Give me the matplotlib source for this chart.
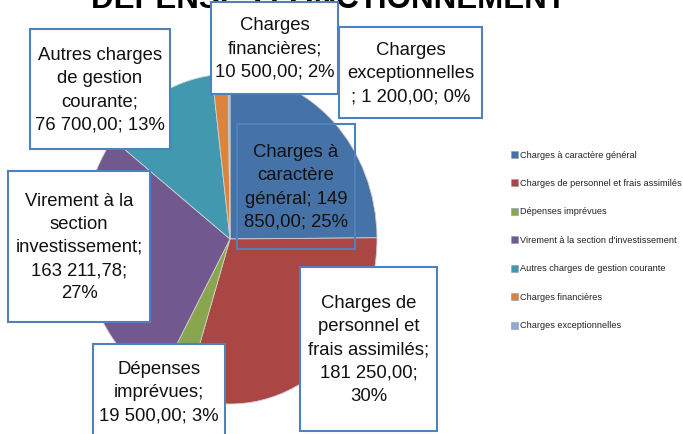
import matplotlib
matplotlib.use("Agg")
import matplotlib.pyplot as plt
from matplotlib.patches import Rectangle
from matplotlib.lines import Line2D

W, H = 683, 435

categories = [
    "Charges à caractère général",
    "Charges de personnel et frais assimilés",
    "Dépenses imprévues",
    "Virement à la section d'investissement",
    "Autres charges de gestion courante",
    "Charges financières",
    "Charges exceptionnelles",
]
values = [149850.00, 181250.00, 19500.00, 163211.78, 76700.00, 10500.00, 1200.00]
colors = ["#4572A7", "#AA4643", "#89A54E", "#71588F", "#4198AF", "#DB843D", "#93A9CF"]

# label text, line breaks as in the original (Excel wrapping)
label_tpl = [
    "Charges à\ncaractère\ngénéral; {th}\n{rest}; {p}",
    "Charges de\npersonnel et\nfrais assimilés;\n{v};\n{p}",
    "Dépenses\nimprévues;\n{v}; {p}",
    "Virement à la\nsection\ninvestissement;\n{v};\n{p}",
    "Autres charges\nde gestion\ncourante;\n{v}; {p}",
    "Charges\nfinancières;\n{v}; {p}",
    "Charges\nexceptionnelles\n; {v}; {p}",
]
# label boxes in pixels: x0, y0, x1, y1 (top-left origin), filled or not
label_boxes = [
    (237, 125, 355, 250, False),
    (300, 268, 437, 432, True),
    (93, 345, 225, 440, True),
    (8, 172, 150, 323, True),
    (30, 30, 170, 150, True),
    (211, 3, 338, 95, True),
    (339, 28, 482, 119, True),
]


def fr(v):
    return f"{v:,.2f}".replace(",", " ").replace(".", ",")


total = sum(values)

fig = plt.figure(figsize=(W / 100, H / 100), dpi=100)
fig.patch.set_facecolor("white")

# pie is a bit stretched vertically, like the Excel original
cx, cy, rx, ry = 230, 240, 147, 165
ax = fig.add_axes([(cx - rx) / W, (H - cy - ry) / H, 2 * rx / W, 2 * ry / H])
ax.pie(values, colors=colors, startangle=90, counterclock=False,
       wedgeprops=dict(linewidth=0.6, edgecolor="#d0d0d0"))
ax.set_aspect("auto")
ax.set_xlim(-1, 1)
ax.set_ylim(-1, 1)
ax.axis("off")

fig.text(328 / W, 1 - 8 / H, "DEPENSES FONCTIONNEMENT", ha="center", va="baseline",
         fontsize=22.5, fontweight="bold", family=["Liberation Sans", "DejaVu Sans"],
         color="black", zorder=1)

# leader line for the small slices
fig.add_artist(Line2D([338 / W, 236 / W], [1 - 79 / H, 1 - 92 / H],
                      color="black", lw=0.8, zorder=3))

font = ["Liberation Sans", "DejaVu Sans"]
for i, (tpl, box) in enumerate(zip(label_tpl, label_boxes)):
    v = values[i]
    s = fr(v)
    th, rest = s.split(" ", 1) if " " in s else ("", s)
    txt = tpl.format(v=s, th=th, rest=rest, p=f"{round(v / total * 100):.0f}%")
    x0, y0, x1, y1, filled = box
    fig.add_artist(Rectangle((x0 / W, 1 - y1 / H), (x1 - x0) / W, (y1 - y0) / H,
                             transform=fig.transFigure, facecolor="white" if filled else "none",
                             edgecolor="#4F81BD", lw=1.5, zorder=4))
    fig.text((x0 + x1) / 2 / W, 1 - (y0 + y1) / 2 / H, txt, ha="center", va="center",
             multialignment="center", fontsize=13.3, linespacing=1.48,
             family=font, color="#111111", zorder=5)

# legend
leg_x, leg_y0, leg_dy = 511, 155, 28.5
for i, (name, col) in enumerate(zip(categories, colors)):
    y = leg_y0 + i * leg_dy
    fig.add_artist(Rectangle((leg_x / W, 1 - (y + 3.5) / H), 7 / W, 7 / H,
                             transform=fig.transFigure, facecolor=col,
                             edgecolor="#8899bb", lw=0.4))
    fig.text((leg_x + 9) / W, 1 - y / H, name, ha="left", va="center",
             fontsize=6.6, family=font, color="#222222")

fig.savefig("out.png", dpi=100, facecolor="white")
